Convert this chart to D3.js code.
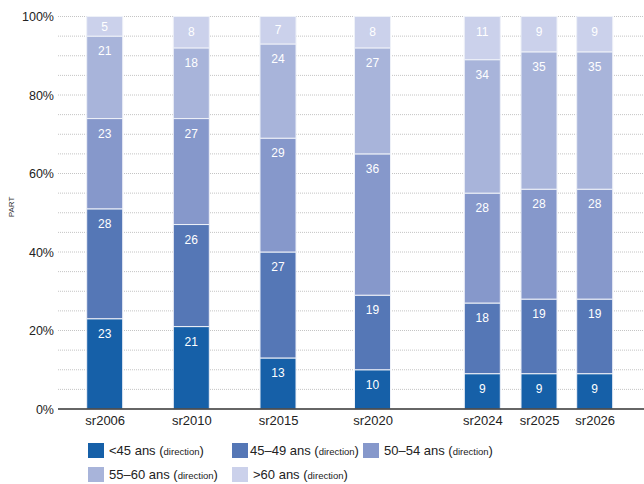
<!DOCTYPE html>
<html>
<head>
<meta charset="utf-8">
<script src="https://cdn.jsdelivr.net/npm/d3@7"></script>
<style>
  body { margin: 0; background: #fff; }
  svg { display: block; font-family: "Liberation Sans", Arial, sans-serif; }
</style>
</head>
<body>
<svg id="chart" width="644" height="484"></svg>
<script>
// Age structure of management staff, share per age band (%)
const categories = ["sr2006", "sr2010", "sr2015", "sr2020", "sr2024", "sr2025", "sr2026"];
const seriesNames = ["<45 ans", "45–49 ans", "50–54 ans", "55–60 ans", ">60 ans"];
const under45   = [23, 21, 13, 10,  9,  9,  9];
const age45to49 = [28, 26, 27, 19, 18, 19, 19];
const age50to54 = [23, 27, 29, 36, 28, 28, 28];
const age55to60 = [21, 18, 24, 27, 34, 35, 35];
const over60    = [ 5,  8,  7,  8, 11,  9,  9];
const yTickValues = [0, 20, 40, 60, 80, 100];

// ---- layout & style ----
const colors = ["#1660a8", "#5577b6", "#8698cb", "#a8b4da", "#cbd1eb"];
const plotLeft = 58, plotRight = 644, plotTop = 16.5, plotBottom = 409;
const barWidth = 36;
// historical years sit on a wider pitch than the projections
const slotCenters = [104.7, 191.3, 278, 372.5, 482.3, 539, 594.7];

const svg = d3.select("#chart");

const seriesValues = [under45, age45to49, age50to54, age55to60, over60];
const rows = categories.map((c, i) => {
  const r = { cat: c };
  seriesNames.forEach((s, k) => { r[s] = seriesValues[k][i]; });
  return r;
});
const stacked = d3.stack().keys(seriesNames)(rows);

const y = d3.scaleLinear().domain([0, 100]).range([plotBottom, plotTop]);
const x = d3.scaleOrdinal().domain(categories).range(slotCenters);

// dotted gridlines every 5 %
svg.append("g")
  .selectAll("line")
  .data(d3.range(5, 101, 5))
  .join("line")
  .attr("x1", plotLeft).attr("x2", plotRight)
  .attr("y1", d => y(d)).attr("y2", d => y(d))
  .attr("stroke", "#c4c4c4")
  .attr("stroke-width", 1)
  .attr("stroke-dasharray", "1,1");

// stacked bars
const layers = svg.append("g")
  .selectAll("g")
  .data(stacked)
  .join("g")
  .attr("fill", (d, i) => colors[i]);

layers.selectAll("rect")
  .data(d => d)
  .join("rect")
  .attr("x", d => x(d.data.cat) - barWidth / 2)
  .attr("width", barWidth)
  .attr("y", d => y(d[1]))
  .attr("height", d => y(d[0]) - y(d[1]))
  .attr("stroke", "#eef1f8")
  .attr("stroke-width", 1);

// value labels near the top of each segment
layers.selectAll("text")
  .data(d => d)
  .join("text")
  .attr("x", d => x(d.data.cat))
  .attr("y", d => {
    const top = y(d[1]), h = y(d[0]) - y(d[1]);
    return top + Math.min(15, h / 2);
  })
  .attr("dy", "0.35em")
  .attr("text-anchor", "middle")
  .attr("fill", "#ffffff")
  .attr("font-size", 12)
  .text(d => d[1] - d[0]);

// y axis
const yAxis = svg.append("g")
  .attr("transform", `translate(${plotLeft},0)`)
  .call(d3.axisLeft(y).tickValues(yTickValues).tickFormat(d => d + "%").tickSize(0).tickPadding(4));
yAxis.select(".domain").remove();
yAxis.selectAll("text").attr("font-size", 12.5).attr("fill", "#222").attr("font-family", null);

// x axis
const xAxis = svg.append("g")
  .attr("transform", `translate(0,${plotBottom})`)
  .call(d3.axisBottom(x).tickSize(0).tickPadding(7));
xAxis.select(".domain").remove();
xAxis.selectAll("text").attr("font-size", 13).attr("fill", "#222").attr("font-family", null);

// baseline
svg.append("line")
  .attr("x1", plotLeft).attr("x2", plotRight)
  .attr("y1", plotBottom).attr("y2", plotBottom)
  .attr("stroke", "#333")
  .attr("stroke-width", 1.5);

// y axis title
svg.append("text")
  .attr("transform", "translate(14,207) rotate(-90)")
  .attr("text-anchor", "middle")
  .attr("font-size", 8)
  .attr("fill", "#333")
  .text("PART");

// legend
const legendPos = [[88, 443], [232, 443], [363, 443], [88, 467], [232, 467]];
const legendTextX = [109, 250, 384, 109, 253];
const legend = svg.append("g")
  .selectAll("g")
  .data(seriesNames)
  .join("g");

legend.append("rect")
  .attr("x", (d, i) => legendPos[i][0])
  .attr("y", (d, i) => legendPos[i][1])
  .attr("width", 16).attr("height", 15)
  .attr("fill", (d, i) => colors[i]);

const lt = legend.append("text")
  .attr("x", (d, i) => legendTextX[i])
  .attr("y", (d, i) => legendPos[i][1] + 7.5)
  .attr("dy", "0.35em")
  .attr("font-size", 13)
  .attr("fill", "#222");
lt.append("tspan").text(d => d + " (");
lt.append("tspan").attr("font-size", 9.5).text("direction");
lt.append("tspan").text(")");
</script>
</body>
</html>
